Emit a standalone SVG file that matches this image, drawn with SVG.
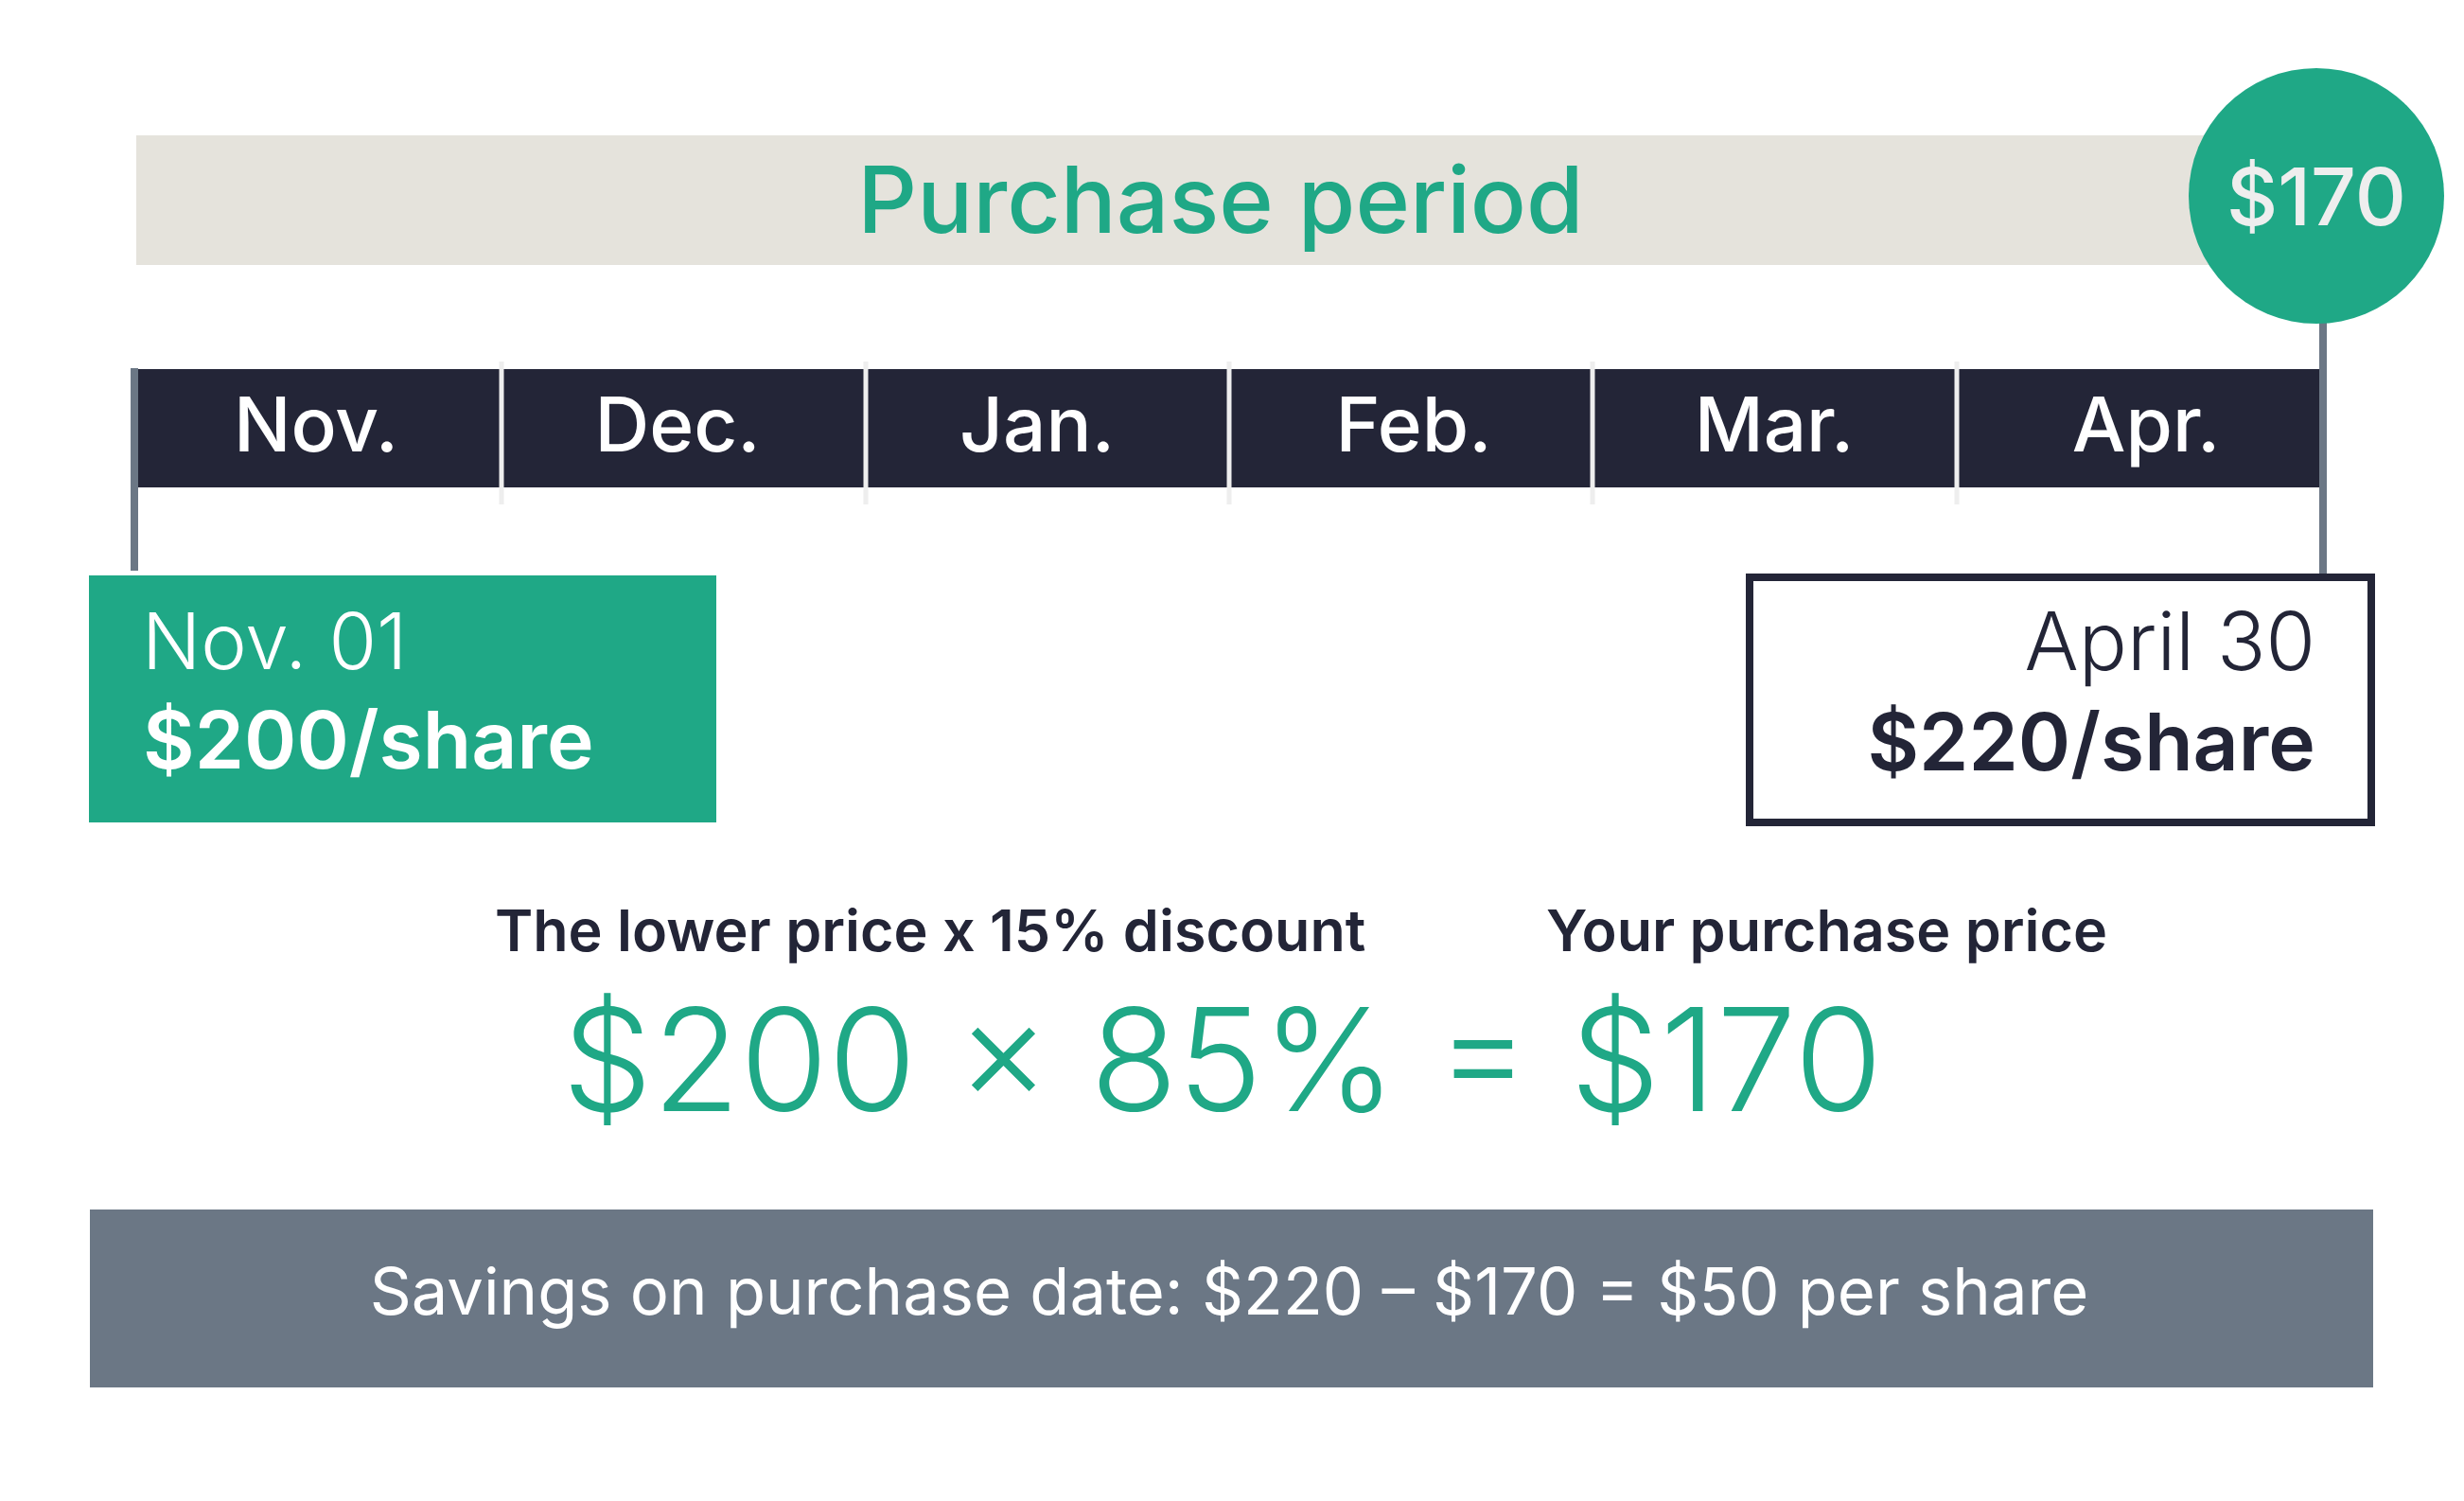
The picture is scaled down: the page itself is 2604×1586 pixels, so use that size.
<svg xmlns="http://www.w3.org/2000/svg" width="2604" height="1586" viewBox="0 0 2604 1586">
<style>
text{font-family:Inter,"Liberation Sans",sans-serif}
.month{font-size:80px;font-weight:500;fill:#ffffff;text-anchor:middle}
.div{stroke:#eeeeee;stroke-width:5}
.tick{stroke:#6b7785;stroke-width:8}
.label{font-size:61px;font-weight:600;fill:#232537}
.light{font-weight:300}
.semi{font-weight:600}
</style>
<rect width="2604" height="1586" fill="#ffffff"/>
<g id="purchase-period">
<rect x="144" y="143" width="2260" height="137" fill="#e5e3dc"/>
<text x="1290" y="246" font-size="98" font-weight="500" fill="#1fa886" text-anchor="middle">Purchase period</text>
</g>
<g id="timeline">
<rect x="146" y="390" width="2306" height="125" fill="#232537"/>
<line class="div" x1="530" y1="382" x2="530" y2="533"/>
<line class="div" x1="915" y1="382" x2="915" y2="533"/>
<line class="div" x1="1299" y1="382" x2="1299" y2="533"/>
<line class="div" x1="1683" y1="382" x2="1683" y2="533"/>
<line class="div" x1="2068" y1="382" x2="2068" y2="533"/>
<text class="month" x="334" y="477">Nov.</text>
<text class="month" x="716" y="477">Dec.</text>
<text class="month" x="1096" y="477">Jan.</text>
<text class="month" x="1494" y="477">Feb.</text>
<text class="month" x="1875" y="477">Mar.</text>
<text class="month" x="2268" y="477">Apr.</text>
</g>
<g id="connectors">
<line class="tick" x1="142" y1="389" x2="142" y2="603"/>
<line class="tick" x1="2455" y1="340" x2="2455" y2="606"/>
</g>
<g id="price-circle">
<circle cx="2448" cy="207" r="135" fill="#1fa886"/>
<text x="2448" y="238" font-size="84" font-weight="500" fill="#eeeeee" text-anchor="middle">$170</text>
</g>
<g id="start-box">
<rect x="94" y="608" width="663" height="261" fill="#1fa886"/>
<text x="150" y="707" font-size="82" fill="#ffffff" class="light">Nov. 01</text>
<text x="151" y="812" font-size="84" fill="#ffffff" class="semi">$200/share</text>
</g>
<g id="end-box">
<rect x="1849" y="610" width="657" height="259" fill="#ffffff" stroke="#232537" stroke-width="8"/>
<text x="2447" y="708" font-size="85" fill="#232537" class="light" text-anchor="end">April 30</text>
<text x="2447" y="814" font-size="84" fill="#232537" class="semi" text-anchor="end">$220/share</text>
</g>
<g id="formula">
<text class="label" x="523" y="1005">The lower price x 15% discount</text>
<text class="label" x="1634" y="1005">Your purchase price</text>
<text x="594" y="1174" font-size="151" font-weight="300" fill="#1fa886">$200 × 85% = $170</text>
</g>
<g id="savings">
<rect x="95" y="1278" width="2413" height="188" fill="#6b7785"/>
<text x="1299" y="1389" font-size="68.7" font-weight="400" fill="#ffffff" text-anchor="middle">Savings on purchase date: $220 – $170 = $50 per share</text>
</g>
</svg>
